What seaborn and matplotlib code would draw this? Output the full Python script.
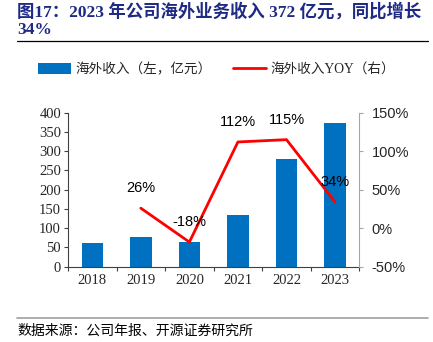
import matplotlib
matplotlib.use("Agg")
import matplotlib.pyplot as plt
import seaborn as sns
import numpy as np
import pandas as pd
from matplotlib.lines import Line2D
from matplotlib.patches import Patch

years = ["2018", "2019", "2020", "2021", "2022", "2023"]
revenue = [61, 77, 63, 133, 281, 372]
yoy_years = ["2019", "2020", "2021", "2022", "2023"]
yoy = [26, -18, 112, 115, 34]
yoy_labels = ["26%", "-18%", "112%", "115%", "34%"]
left_ticks = [0, 50, 100, 150, 200, 250, 300, 350, 400]
right_ticks = [-50, 0, 50, 100, 150]
right_ticklabels = ["-50%", "0%", "50%", "100%", "150%"]

sns.set_style("white")
plt.rcParams["font.family"] = ["Liberation Serif", "Noto Sans CJK SC"]

fig = plt.figure(figsize=(4.33, 3.42), dpi=100)
ax = fig.add_axes([68/433, 1-266.7/342, (359.3-68)/433, (266.7-112.7)/342])

df = pd.DataFrame({"year": years, "revenue": revenue})
sns.barplot(data=df, x="year", y="revenue", ax=ax, color="#0070C0",
            saturation=1, width=0.44, edgecolor="none")
ax.set_xlim(-0.5, 5.5)
ax.set_ylim(0, 400)
ax.set_yticks(left_ticks)
ax.set_xlabel("")
ax.set_ylabel("")
for s in ["top", "right"]:
    ax.spines[s].set_visible(False)
for s in ["left", "bottom"]:
    ax.spines[s].set_color("#404040")
    ax.spines[s].set_linewidth(0.8)
ax.tick_params(axis="y", which="major", direction="out", length=3, width=0.8,
               color="#404040", labelsize=10.5, pad=2, left=True)
ax.tick_params(axis="x", which="major", length=0, labelsize=10.5, pad=5)
ax.set_xticks(np.arange(-0.5, 6, 1), minor=True)
ax.tick_params(axis="x", which="minor", direction="out", length=3, width=0.8,
               color="#404040", bottom=True)
for lab in ax.get_yticklabels() + ax.get_xticklabels():
    lab.set_family("Liberation Serif")

ax2 = ax.twinx()
pos = [years.index(y) for y in yoy_years]
ldf = pd.DataFrame({"pos": pos, "yoy": yoy})
sns.lineplot(data=ldf, x="pos", y="yoy", ax=ax2, color="#FF0000", linewidth=2)
ax2.set_xlim(-0.5, 5.5)
ax2.set_ylim(-50, 150)
ax2.set_yticks(right_ticks)
ax2.set_yticklabels(right_ticklabels)
ax2.set_ylabel("")
ax2.set_xlabel("")
for s in ["top", "left", "bottom"]:
    ax2.spines[s].set_visible(False)
ax2.spines["right"].set_color("#A6A6A6")
ax2.spines["right"].set_linewidth(0.8)
ax2.tick_params(axis="y", direction="out", length=3, width=0.8, color="#A6A6A6",
                labelsize=10.5, pad=6, right=True)
for lab in ax2.get_yticklabels():
    lab.set_family("Liberation Sans")

for p, v, t in zip(pos, yoy, yoy_labels):
    ax2.annotate(t, (p, v), xytext=(0, 14.5), textcoords="offset points",
                 ha="center", va="center", fontsize=10.5, family="Liberation Sans",
                 color="black")

# Title
tfam = ["Liberation Serif", "Noto Sans CJK SC"]
fig.text(17/433, 1-12/342, "图17：2023 年公司海外业务收入 372 亿元，同比增长",
         fontsize=12.5, fontweight="bold", color="#1F2A84", va="center", ha="left",
         family=tfam)
fig.text(17/433, 1-30/342, "34%", fontsize=12.5, fontweight="bold", color="#1F2A84",
         va="center", ha="left", family=tfam)
fig.add_artist(Line2D([17/433, 428/433], [1-40.5/342, 1-40.5/342], color="black", lw=0.9))

# Legend
handles = [Patch(facecolor="#0070C0", edgecolor="none"),
           Line2D([0], [0], color="#FF0000", lw=2)]
fig.legend(handles, ["海外收入（左，亿元）", "海外收入YOY（右）"], loc="center",
           bbox_to_anchor=(0.5, 1-69.5/342), ncol=2, frameon=False,
           prop={"family": tfam, "size": 9.8},
           handlelength=2.4, handleheight=0.8, columnspacing=1.6, handletextpad=0.3)

# Footer
fig.add_artist(Line2D([17/433, 428/433], [1-317.5/342, 1-317.5/342], color="#A0A0A0", lw=1.2))
fig.text(17/433, 1-330.5/342, "数据来源：公司年报、开源证券研究所", fontsize=10,
         color="black", va="center", ha="left",
         family=["Noto Sans CJK SC", "DejaVu Sans"])

fig.savefig("out.png", dpi=100)
